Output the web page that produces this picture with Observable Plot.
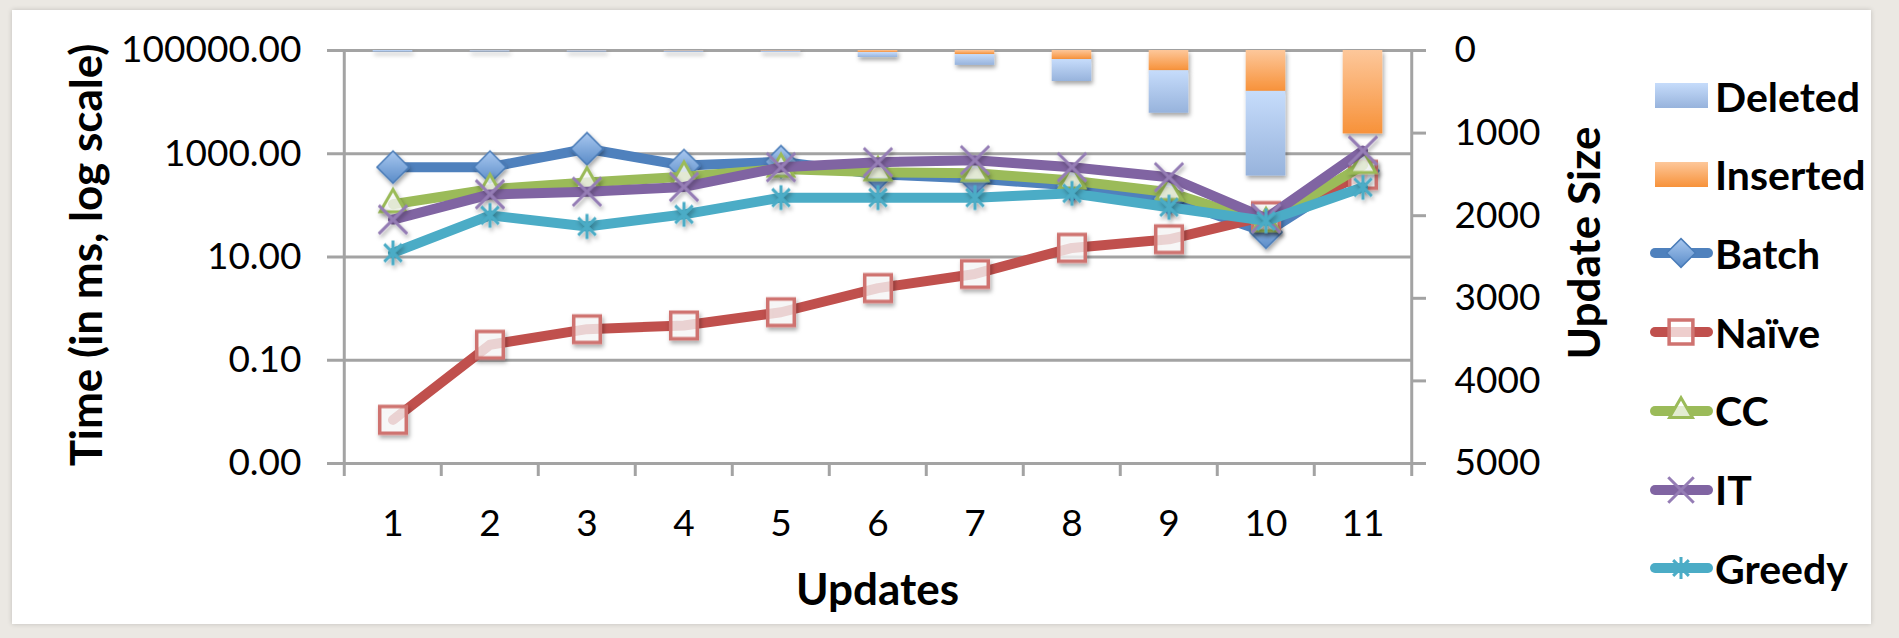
<!DOCTYPE html>
<html>
<head>
<meta charset="utf-8">
<script src="https://cdn.jsdelivr.net/npm/d3@7"></script>
<script src="https://cdn.jsdelivr.net/npm/@observablehq/plot@0.6"></script>
<style>
  html, body { margin: 0; padding: 0; }
  body { width: 1899px; height: 638px; position: relative; overflow: hidden; background: #ebe8e3; font-family: Lato, "Open Sans", sans-serif; }
  #panel { position: absolute; left: 12px; top: 10px; width: 1859px; height: 614px; background: #fff; box-shadow: 0 0 5px rgba(0,0,0,.18); }
  #chart { position: absolute; left: 0; top: 0; }
  #legend { position: absolute; left: 0; top: 0; }
  .item { position: absolute; left: 1650px; height: 50px; display: flex; align-items: center; font-weight: 700; font-size: 41px; color: #000; }
  .item svg { display: block; margin-right: 3px; overflow: visible; }
</style>
</head>
<body>
<div id="panel"></div>
<div id="chart"></div>
<div id="legend"></div>
<script>
// Update batches along the x axis
const updates = [1, 2, 3, 4, 5, 6, 7, 8, 9, 10, 11];

// Update sizes (right axis, hanging down from 0)
const inserted = [0, 3, 4, 6, 8, 25, 50, 110, 245, 495, 1010];
const deleted  = [20, 15, 15, 16, 16, 60, 130, 265, 515, 1025, 0];

// Running times in ms (left axis, log scale)
const batch  = [550, 550, 1250, 590, 700, 400, 330, 242, 136, 30, 470];
const naive  = [0.007, 0.2, 0.4, 0.47, 0.85, 2.5, 4.7, 15, 22, 62, 390];
const cc     = [105, 205, 277, 358, 507, 436, 420, 302, 180, 45, 600];
const it     = [53, 163, 184, 228, 547, 686, 750, 549, 351, 56, 1150];
const greedy = [12, 64, 39, 67, 141, 141, 141, 171, 92, 50, 224];

// Axis ticks
const timeTicks = [0.001, 0.1, 10, 1000, 100000];
const sizeTicks = [0, 1000, 2000, 3000, 4000, 5000];

const W = 1899, H = 638;
const mL = 341, mR = 486, mT = 50, mB = 175;
const frameW = W - mL - mR, frameH = H - mT - mB;
const band = frameW / updates.length;

// The update-size axis (0..5000, top to bottom) shares the plot height with
// the log time axis (1e5..1e-3), so sizes are mapped onto the time domain.
const sizeMax = 5000, logTop = 5, logSpan = 8;
const sizeToTime = s => 10 ** (logTop - logSpan * s / sizeMax);

const rows = updates.map((u, i) => ({
  u, ins: inserted[i], del: deleted[i],
  batch: batch[i], naive: naive[i], cc: cc[i], it: it[i], greedy: greedy[i]
}));

// six-armed star: an X with a vertical stroke through it
const star6 = {
  draw(context, size) {
    const r = Math.sqrt(size) * 0.5;
    const d = r * Math.SQRT1_2;
    context.moveTo(0, -r); context.lineTo(0, r);
    context.moveTo(-d, -d); context.lineTo(d, d);
    context.moveTo(-d, d); context.lineTo(d, -d);
  }
};

const symbols = {diamond2: d3.symbolDiamond2, square: d3.symbolSquare, triangle: d3.symbolTriangle, times: d3.symbolTimes, star6};

const series = [
  {key: "batch",  name: "Batch",  color: "#4f81bd", symbol: "diamond2", r: 14.5, fill: "url(#gBatch)", mstroke: "#4a7cb8", msw: 1.5},
  {key: "naive",  name: "Naïve",  color: "#c0504d", symbol: "square",   r: 15,   fill: "rgba(255,255,255,0.72)", mstroke: "#cf7370", msw: 3.5},
  {key: "cc",     name: "CC",     color: "#9bbb59", symbol: "triangle", r: 9.5,  fill: "rgba(255,255,255,0.72)", mstroke: "#9bbb59", msw: 3},
  {key: "it",     name: "IT",     color: "#8064a2", symbol: "times",    r: 13,   fill: "none", mstroke: "#957db5", msw: 3},
  {key: "greedy", name: "Greedy", color: "#4bacc6", symbol: "star6",    r: 14,   fill: "none", mstroke: "#4bacc6", msw: 3}
];

const grid = "#a3a3a3";
const tickFont = 37, titleFont = 44;

const marks = [
  // horizontal gridlines
  Plot.ruleY(timeTicks, {stroke: grid, strokeWidth: 3}),
  // update-size bars hanging from the top
  Plot.barY(rows, {x: "u", y1: () => sizeToTime(0), y2: d => sizeToTime(d.ins), fill: "url(#gIns)", insetLeft: 28.7, insetRight: 28.7}),
  Plot.barY(rows, {x: "u", y1: d => sizeToTime(d.ins), y2: d => sizeToTime(d.ins + d.del), fill: "url(#gDel)", insetLeft: 28.7, insetRight: 28.7}),
  // left and right axis lines
  Plot.ruleX([updates[0]], {dx: -band / 2, stroke: grid, strokeWidth: 3, insetBottom: -13}),
  Plot.ruleX([updates[updates.length - 1]], {dx: band / 2, stroke: grid, strokeWidth: 3, insetBottom: -13}),
  // category boundary ticks on the x axis
  Plot.ruleX(updates.slice(1), {dx: -band / 2, stroke: grid, strokeWidth: 3, insetTop: frameH, insetBottom: -13}),
  Plot.axisX({tickSize: 0, tickPadding: 46, fontSize: tickFont, label: null}),
  // left time axis
  Plot.axisY({ticks: timeTicks, tickFormat: d => d.toFixed(2), tickSize: 14, tickPadding: 26, stroke: grid, strokeWidth: 3, fontSize: tickFont, label: null}),
  // right update-size axis: tick stubs and labels
  Plot.ruleY(sizeTicks, {y: sizeToTime, stroke: grid, strokeWidth: 3, insetLeft: frameW, insetRight: -13}),
  Plot.text(sizeTicks, {y: sizeToTime, text: d => String(d), frameAnchor: "right", textAnchor: "start", dx: 41, fontSize: tickFont}),
  // axis titles
  Plot.text(["Time (in ms, log scale)"], {frameAnchor: "left", textAnchor: "middle", lineAnchor: "middle", rotate: -90, dx: -254, dy: -2, fontWeight: "bold", fontSize: titleFont}),
  Plot.text(["Update Size"], {frameAnchor: "right", textAnchor: "middle", lineAnchor: "middle", rotate: -90, dx: 172, dy: -14, fontWeight: "bold", fontSize: titleFont}),
  Plot.text(["Updates"], {frameAnchor: "bottom", textAnchor: "middle", lineAnchor: "middle", dy: 127, fontWeight: "bold", fontSize: titleFont})
];

// one line plus its markers per algorithm
for (const s of series) {
  marks.push(Plot.line(rows, {x: "u", y: s.key, stroke: s.color, strokeWidth: 10, strokeLinejoin: "round", strokeLinecap: "round"}));
  marks.push(Plot.dot(rows, {x: "u", y: s.key, symbol: symbols[s.symbol], r: s.r, fill: s.fill, stroke: s.mstroke, strokeWidth: s.msw}));
}

const chart = Plot.plot({
  width: W, height: H,
  marginLeft: mL, marginRight: mR, marginTop: mT, marginBottom: mB,
  style: {background: "transparent", fontFamily: "Lato, 'Open Sans', sans-serif", fontSize: "36px", color: "#000", overflow: "visible"},
  x: {type: "band", domain: updates, padding: 0, axis: null},
  y: {type: "log", domain: [0.001, 100000], axis: null},
  marks
});

// gradients and shadow used by bars and markers
const defs = d3.create("svg:defs");
function vgrad(id, top, bottom) {
  const g = defs.append("linearGradient").attr("id", id).attr("x1", 0).attr("y1", 0).attr("x2", 0).attr("y2", 1);
  g.append("stop").attr("offset", "0%").attr("stop-color", top);
  g.append("stop").attr("offset", "100%").attr("stop-color", bottom);
}
vgrad("gDel", "#c6dcfb", "#97b3dc");
vgrad("gIns", "#fdc79a", "#f7923a");
vgrad("gBatch", "#a9c8f0", "#5a8cc8");
const f = defs.append("filter").attr("id", "shadow").attr("x", "-30%").attr("y", "-30%").attr("width", "160%").attr("height", "160%");
f.append("feDropShadow").attr("dx", 1.5).attr("dy", 3).attr("stdDeviation", 2).attr("flood-color", "#000").attr("flood-opacity", 0.35);
chart.insertBefore(defs.node(), chart.firstChild);
d3.select(chart).selectAll('g[aria-label="bar"], g[aria-label="dot"]').attr("filter", "url(#shadow)");

document.getElementById("chart").appendChild(chart);

// legend on the right
const legend = d3.select("#legend");
const legendItems = [
  {name: "Deleted", bar: "url(#gDel)"},
  {name: "Inserted", bar: "url(#gIns)"},
  ...series
];
const itemTop = 71, itemStep = 78.7;
legendItems.forEach((s, i) => {
  const item = legend.append("div").attr("class", "item").style("top", `${itemTop + i * itemStep}px`);
  const sw = item.append("svg").attr("width", 62).attr("height", 50);
  if (s.bar) {
    sw.append("rect").attr("x", 5).attr("y", 12).attr("width", 53).attr("height", 25).attr("fill", s.bar);
  } else {
    sw.append("line").attr("x1", 5).attr("x2", 58).attr("y1", 25).attr("y2", 25)
      .attr("stroke", s.color).attr("stroke-width", 10).attr("stroke-linecap", "round");
    sw.append("path").attr("transform", "translate(31,25)")
      .attr("d", d3.symbol(symbols[s.symbol], Math.PI * s.r * s.r * 0.8)())
      .attr("fill", s.fill).attr("stroke", s.mstroke).attr("stroke-width", s.msw);
  }
  item.append("span").text(s.name);
});
</script>
</body>
</html>
